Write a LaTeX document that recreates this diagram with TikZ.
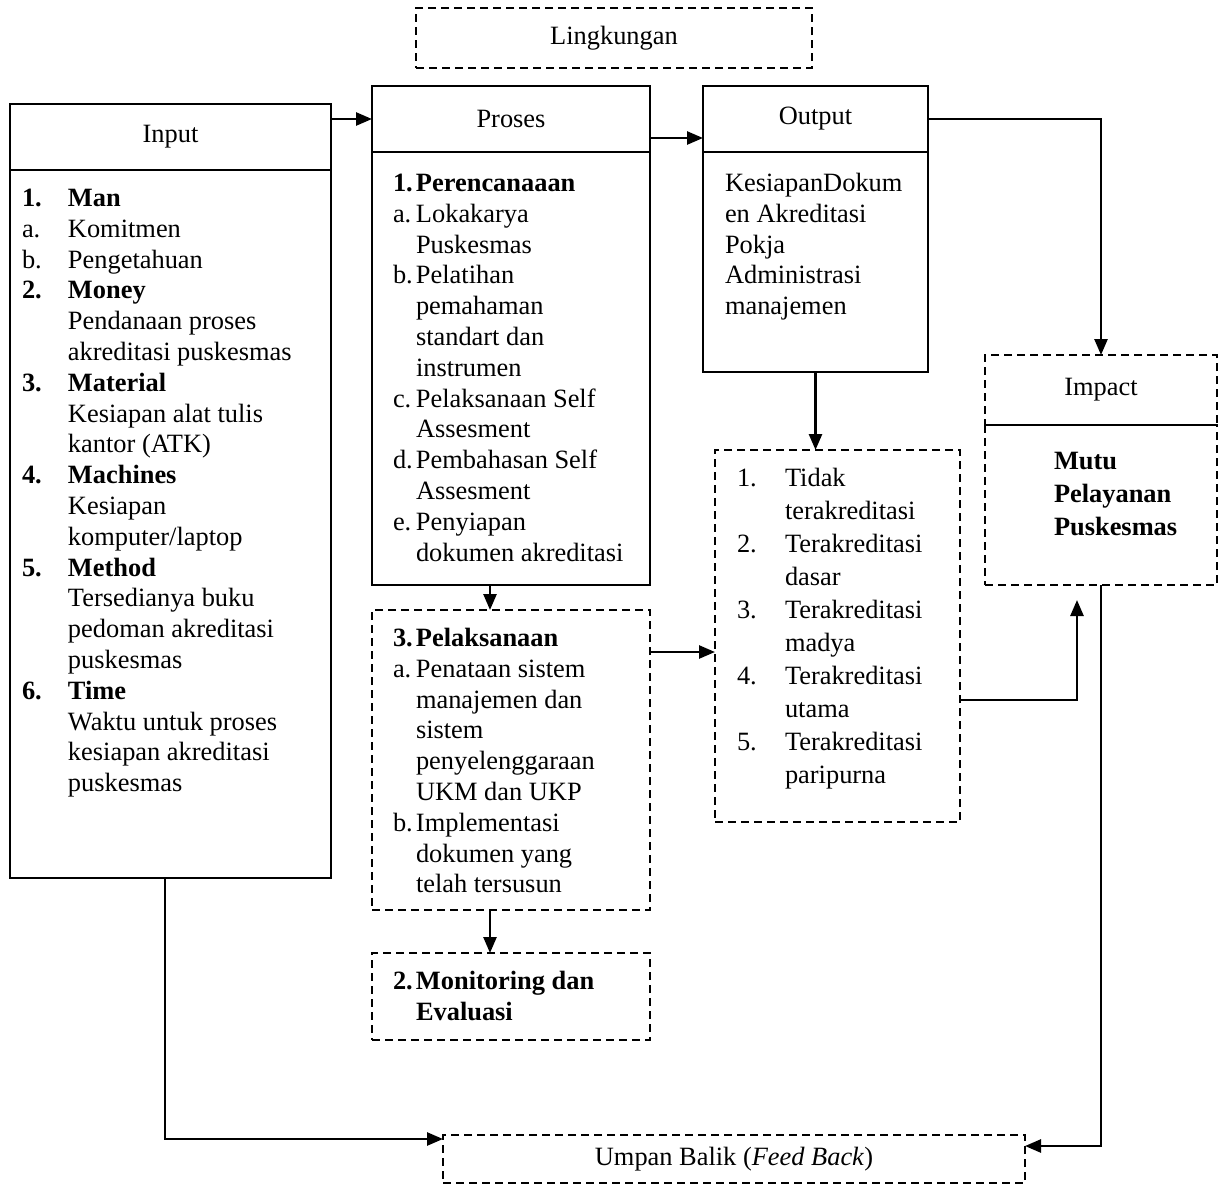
\documentclass[tikz,border=0pt]{standalone}
\usepackage{fontspec}
\setmainfont{Liberation Serif}
\usetikzlibrary{arrows.meta, positioning}

\newcommand{\bodyfont}{\fontsize{13.2pt}{15.4pt}\selectfont}
\newcommand{\listfont}{\fontsize{13.2pt}{16.5pt}\selectfont}

\tikzset{
  solidbox/.style={
    rectangle, draw, line width=1pt, outer sep=0pt, inner sep=0pt,
    font=\bodyfont
  },
  dashbox/.style={
    rectangle, draw, dash pattern=on 4pt off 2.5pt, line width=0.8pt,
    outer sep=0pt, inner sep=0pt, font=\bodyfont
  },
  bodytext/.style={anchor=north west, inner sep=0pt, outer sep=0pt, align=left, font=\bodyfont},
  arrow/.style={-{Triangle[length=8pt,width=6.5pt]}, line width=1.3pt}
}

\begin{document}
\begin{tikzpicture}[x=0.5pt, y=-0.5pt]
  \useasboundingbox (0,0) rectangle (1227,1184);

  %% ---- Lingkungan ----
  \node[dashbox, minimum width=198pt, minimum height=30pt] (lingk) at (614,38) {Lingkungan};

  %% ---- Input ----
  \node[solidbox, minimum width=160.5pt, minimum height=33pt] (inhead) at (170.5,137) {Input};
  \node[solidbox, minimum width=160.5pt, minimum height=354pt, below=0pt of inhead] (inbody) {};
  \node[bodytext] (intext) at (22,185) {\begin{tabular}{@{}p{23pt}@{}l@{}}
    \textbf{1.} & \textbf{Man}\\
    a. & Komitmen\\
    b. & Pengetahuan\\
    \textbf{2.} & \textbf{Money}\\
     & Pendanaan proses\\
     & akreditasi puskesmas\\
    \textbf{3.} & \textbf{Material}\\
     & Kesiapan alat tulis\\
     & kantor (ATK)\\
    \textbf{4.} & \textbf{Machines}\\
     & Kesiapan\\
     & komputer/laptop\\
    \textbf{5.} & \textbf{Method}\\
     & Tersedianya buku\\
     & pedoman akreditasi\\
     & puskesmas\\
    \textbf{6.} & \textbf{Time}\\
     & Waktu untuk proses\\
     & kesiapan akreditasi\\
     & puskesmas
  \end{tabular}};

  %% ---- Proses ----
  \node[solidbox, minimum width=139pt, minimum height=33pt] (prohead) at (511,119) {Proses};
  \node[solidbox, minimum width=139pt, minimum height=216.5pt, below=0pt of prohead] (probody) {};
  \node[bodytext] (protext) at (393,170) {\begin{tabular}{@{}p{11.5pt}@{}l@{}}
    \textbf{1.} & \textbf{Perencanaaan}\\
    a. & Lokakarya\\
     & Puskesmas\\
    b. & Pelatihan\\
     & pemahaman\\
     & standart dan\\
     & instrumen\\
    c. & Pelaksanaan Self\\
     & Assesment\\
    d. & Pembahasan Self\\
     & Assesment\\
    e. & Penyiapan\\
     & dokumen akreditasi
  \end{tabular}};

  \node[dashbox, minimum width=139pt, minimum height=150pt] (pelaks) at (511,760) {};
  \node[bodytext] (pelakstext) at (393,625) {\begin{tabular}{@{}p{11.5pt}@{}l@{}}
    \textbf{3.} & \textbf{Pelaksanaan}\\
    a. & Penataan sistem\\
     & manajemen dan\\
     & sistem\\
     & penyelenggaraan\\
     & UKM dan UKP\\
    b. & Implementasi\\
     & dokumen yang\\
     & telah tersusun
  \end{tabular}};

  \node[dashbox, minimum width=139pt, minimum height=43.5pt] (monev) at (511,996.5) {};
  \node[bodytext] (monevtext) at (393,968) {\begin{tabular}{@{}p{11.5pt}@{}l@{}}
    \textbf{2.} & \textbf{Monitoring dan}\\
     & \textbf{Evaluasi}
  \end{tabular}};

  %% ---- Output ----
  \node[solidbox, minimum width=112.5pt, minimum height=33pt] (outhead) at (815.5,119) {Output};
  \node[solidbox, minimum width=112.5pt, minimum height=110pt, below=0pt of outhead] (outbody) {};
  \node[bodytext] (outtext) at (725,170) {\begin{tabular}{@{}l@{}}
    KesiapanDokum\\
    en Akreditasi\\
    Pokja\\
    Administrasi\\
    manajemen
  \end{tabular}};

  \node[dashbox, minimum width=122.5pt, minimum height=186pt] (result) at (837.5,636) {};
  \node[bodytext, font=\listfont] (resulttext) at (737,463) {\begin{tabular}{@{}p{24pt}@{}l@{}}
    1. & Tidak\\
     & terakreditasi\\
    2. & Terakreditasi\\
     & dasar\\
    3. & Terakreditasi\\
     & madya\\
    4. & Terakreditasi\\
     & utama\\
    5. & Terakreditasi\\
     & paripurna
  \end{tabular}};

  %% ---- Impact ----
  \node[dashbox, minimum width=116pt, minimum height=35pt] (imphead) at (1101,390) {Impact};
  \node[dashbox, minimum width=116pt, minimum height=80pt, below=0pt of imphead] (impbody) {};
  \node[bodytext, font=\listfont\bfseries] (imptext) at (1054,446) {\begin{tabular}{@{}l@{}}
    Mutu\\
    Pelayanan\\
    Puskesmas
  \end{tabular}};

  %% ---- Umpan balik ----
  \node[dashbox, minimum width=291pt, minimum height=24pt] (feedback) at (734,1159)
    {Umpan Balik (\textit{Feed Back})};

  %% ---- connectors ----
  \draw[arrow] (inhead.east |- prohead.west) -- (prohead.west);
  \draw[arrow] ([yshift=-9.5pt]prohead.east) -- ([yshift=-9.5pt]outhead.west);
  \draw[arrow] (outhead.east) -| (imphead.north);
  \draw[arrow] ([xshift=-10.5pt]probody.south) -- ([xshift=-10.5pt]pelaks.north);
  \draw[arrow] ([xshift=-10.5pt]pelaks.south) -- ([xshift=-10.5pt]monev.north);
  \draw[arrow] (outbody.south) -- (outbody.south |- result.north);
  \draw[arrow] ([yshift=54pt]pelaks.east) -- ([yshift=54pt]pelaks.east -| result.west);
  \draw[arrow] ([yshift=-32pt]result.east) -| ([xshift=-12pt, yshift=-7.5pt]impbody.south);
  \draw[arrow] (impbody.south) |- ([yshift=6.5pt]feedback.east);
  \draw[arrow] ([xshift=-2.75pt]inbody.south) |- ([yshift=10pt]feedback.west);

\end{tikzpicture}
\end{document}
